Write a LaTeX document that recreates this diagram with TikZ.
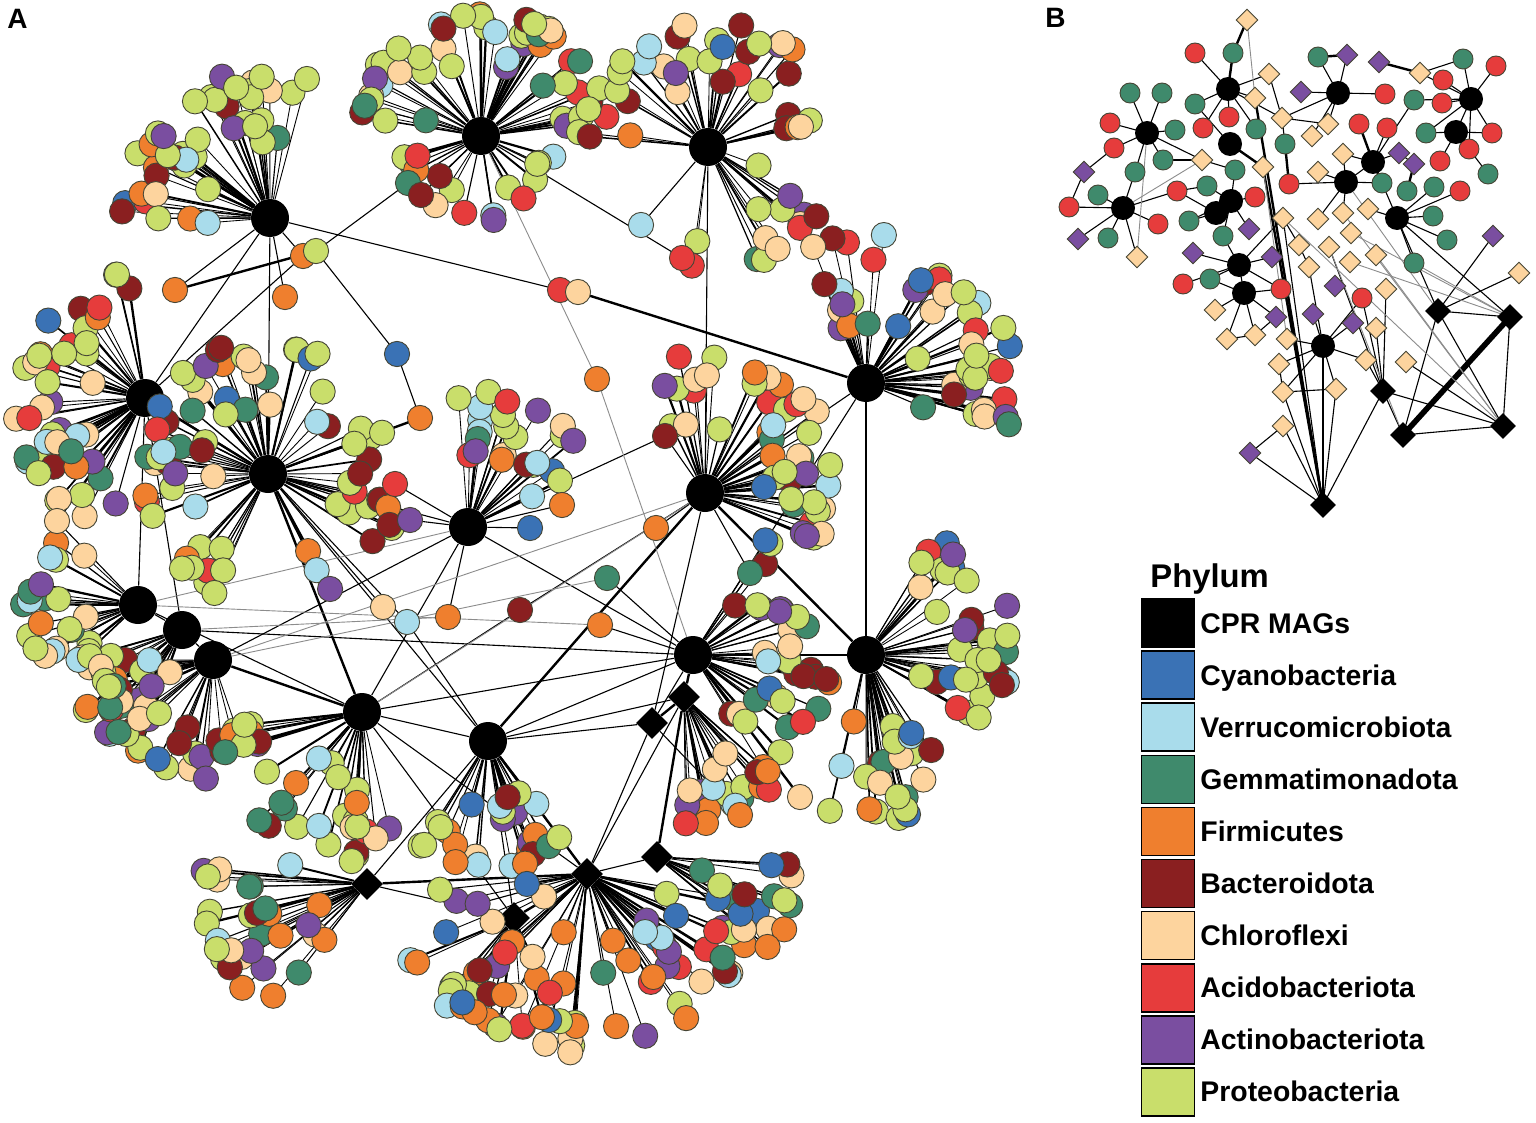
\documentclass[tikz,border=0pt]{standalone}
\usepackage{fontspec}
\setmainfont{Liberation Sans}
\usetikzlibrary{shapes.geometric}
\definecolor{cya}{HTML}{3A72B5}
\definecolor{ver}{HTML}{A9DCEB}
\definecolor{gem}{HTML}{3F8A6C}
\definecolor{ora}{HTML}{EF7F2E}
\definecolor{bac}{HTML}{8A1F20}
\definecolor{chl}{HTML}{FDD49E}
\definecolor{aci}{HTML}{E63C3C}
\definecolor{act}{HTML}{7A4EA0}
\definecolor{pro}{HTML}{C9DE6B}
\definecolor{satb}{HTML}{454535}
\pgfmathdeclarerandomlist{phyla}{{pro}{pro}{pro}{pro}{pro}{pro}{pro}{pro}{pro}{chl}{chl}{chl}{chl}{bac}{bac}{bac}{aci}{aci}{ora}{ora}{gem}{gem}{ver}{ver}{cya}{act}{act}}
\pgfmathdeclarerandomlist{phylb}{{pro}{pro}{pro}{chl}{chl}{chl}{chl}{ora}{ora}{ora}{ora}{act}{act}{act}{aci}{aci}{gem}{gem}{bac}{ver}{cya}}
\def\plist{phyla}
\newif\ifnodepass
% hub, x, y, count, angle min, angle max, r min, r max, seed
\newcommand\fan[9]{%
  \pgfmathsetseed{#9}%
  \foreach \k in {1,...,#4}{%
    \pgfmathsetmacro\ang{#5+rnd*(#6-#5)}%
    \pgfmathsetmacro\rad{#7+sqrt(rnd)*(#8-#7)}%
    \pgfmathsetmacro\px{#2+\rad*cos(\ang)}%
    \pgfmathsetmacro\py{#3-\rad*sin(\ang)}%
    \pgfmathsetmacro\lw{0.42+0.8*rnd^3}%
    \pgfmathrandomitem{\col}{\plist}%
    \ifnodepass
      \node[sat,fill=\col] (f#9n\k) at (f#9s\k) {};%
    \else
      \coordinate (f#9s\k) at (\px,\py);%
      \draw[line width=\lw pt] (#1) -- (f#9s\k);%
    \fi
  }%
}
\newcommand\allfans{%
\def\plist{phyla}%
\fan{h1}{270}{218}{42}{75}{195}{55}{150}{11}%
\fan{h2}{481}{136}{50}{5}{175}{50}{128}{12}%
\fan{h2}{481}{136}{16}{195}{345}{45}{85}{13}%
\fan{h3}{708}{147}{48}{-100}{175}{50}{130}{14}%
\fan{h4}{145}{398}{45}{95}{255}{45}{135}{15}%
\fan{h5}{268}{474}{72}{-70}{250}{45}{135}{16}%
\fan{h6}{468}{527}{24}{25}{95}{60}{140}{17}%
\fan{h7}{705}{493}{45}{-25}{125}{50}{140}{18}%
\fan{h8}{866}{383}{46}{-25}{115}{50}{150}{19}%
\fan{h9}{138}{605}{22}{135}{225}{45}{115}{20}%
\fan{h10}{182}{630}{20}{195}{265}{50}{130}{21}%
\fan{h11}{213}{660}{28}{180}{290}{40}{120}{22}%
\fan{h12}{362}{712}{34}{185}{285}{50}{150}{23}%
\fan{h13}{488}{741}{26}{235}{310}{50}{130}{24}%
\fan{h14}{693}{655}{34}{-60}{60}{40}{140}{25}%
\fan{h15}{866}{655}{34}{-30}{60}{45}{150}{26}%
\fan{h15}{866}{655}{22}{-105}{-55}{60}{170}{27}%
\def\plist{phylb}%
\fan{d1}{684}{697}{20}{-90}{-40}{60}{130}{28}%
\fan{d3}{367}{884}{30}{165}{235}{30}{165}{29}%
\fan{d4}{587}{874}{55}{185}{355}{40}{180}{30}%
\fan{d5}{657}{857}{15}{-40}{0}{40}{150}{31}%
\fan{d6}{514}{918}{20}{200}{300}{30}{115}{32}%
}
\begin{document}
\begin{tikzpicture}[x=0.5pt,y=-0.5pt,
  sat/.style={circle,draw=satb,line width=0.45pt,minimum size=12.6pt,inner sep=0pt},
  hub/.style={circle,fill=black,minimum size=19pt,inner sep=0pt},
  dhub/.style={diamond,fill=black,minimum size=16pt,inner sep=0pt},
  bsat/.style={circle,draw=satb,line width=0.45pt,minimum size=10pt,inner sep=0pt},
  bhub/.style={circle,fill=black,minimum size=12pt,inner sep=0pt},
  bdia/.style={diamond,draw=satb,line width=0.45pt,minimum size=11pt,inner sep=0pt},
  bkd/.style={diamond,fill=black,minimum size=13pt,inner sep=0pt},
  ln/.style={line width=0.55pt},
  thk/.style={line width=1.2pt},
  vthk/.style={line width=2.8pt},
  gry/.style={line width=0.45pt,draw=black!45},
  leg/.style={draw=black,line width=0.8pt,minimum width=26.5pt,minimum height=24pt,inner sep=0pt},
  legtxt/.style={anchor=base west,font=\bfseries\fontsize{14.2}{16}\selectfont,inner sep=0pt},
  lab/.style={anchor=base west,font=\bfseries\fontsize{14}{16}\selectfont,inner sep=0pt}]
\useasboundingbox (0,0) rectangle (1536,1123);
\fill[white] (0,0) rectangle (1536,1123);

\node[lab] (labA) at (7,29) {A};
\node[lab] (labB) at (1045,28) {B};

% ---------------- panel A hubs
\foreach \n/\x/\y in {h1/270/218,h2/481/136,h3/708/147,h4/145/398,h5/268/474,h6/468/527,h7/705/493,h8/866/383,h9/138/605,h10/182/630,h11/213/660,h12/362/712,h13/488/741,h14/693/655,h15/866/655}
  \node[hub] (\n) at (\x,\y) {};
\foreach \n/\x/\y in {d1/684/697,d2/652/723,d3/367/884,d4/587/874,d5/657/857,d6/514/918}
  \node[dhub] (\n) at (\x,\y) {};

% ---------------- bridge positions
\foreach \n/\x/\y in {x1/175/290,x2/285/297,x3/303/256,x4/316/251,x5/408/183,x6/421/195,x7/397/354,x8/420/418,x9/560/290,x10/578/292,x11/597/379,x12/682/258,x13/641/225,x14/665/436,x15/520/610,x16/607/578,x17/656/528,x18/750/573,x19/800/797,x20/57/521,x21/448/617,x22/407/622,x23/383/607,x24/600/625,x25/740/815,x26/395/484,x27/410/520,x28/530/528,x29/562/505}
  \coordinate (\n) at (\x,\y);

% ---------------- edges of panel A
\nodepassfalse
\allfans
\foreach \a/\b in {h1/x1,h1/x2,h1/x3,x3/h4,h1/x9,x4/x5,x5/h2,x6/h2,x4/x7,x7/x8,h2/x12,h3/x13,x14/h7,x14/h6,x15/h7,x15/h12,x16/h14,x17/h7,x18/h14,x18/h7,x20/h9,x21/h6,x22/h5,x23/h5,x22/h13,x24/h14,x25/d2,x26/h6,x27/h6,x28/h6,x29/h6,h1/h4,h1/h5,h4/h9,h4/h10,h5/h6,h5/h13,h6/h12,h6/h14,h3/h7,h7/h8,h8/h14,h9/h10,h10/h11,h9/h12,h10/h14,h12/h14,h12/d4,h12/h13,h13/d3,h13/d6,h13/h14,h13/d1,h14/d2,h14/h15,d2/d4,d1/d4,d4/d5,d3/d6,d6/h12,h11/h6,h7/d2,d2/h13}
  \draw[ln] (\a) -- (\b);
\foreach \a/\b in {x10/h8,h4/h5,x8/h5,h11/h12,h5/h12,h7/h13,h14/d1,d1/d2,d1/d5,d4/d6,d3/d4,h13/d4,h15/h7,x19/h14,x20/h4,h8/h15,x1/x4}
  \draw[thk] (\a) -- (\b);
\foreach \a/\b in {h2/x11,x11/h14,h9/h6,h11/x16,h10/x21,h12/h7,h9/x24,h11/h7}
  \draw[gry] (\a) -- (\b);

% ---------------- nodes of panel A
\nodepasstrue
\allfans
\foreach \n/\c in {x1/ora,x2/ora,x3/ora,x4/pro,x5/gem,x6/bac,x7/cya,x8/ora,x9/aci,x10/chl,x11/ora,x12/aci,x13/ver,x14/bac,x15/bac,x16/gem,x17/ora,x18/gem,x19/chl,x20/chl,x21/ora,x22/ver,x23/chl,x24/ora,x25/ora,x26/aci,x27/act,x28/cya,x29/ora}
  \node[sat,fill=\c] (n\n) at (\n) {};

% ---------------- panel B positions
\foreach \n/\x/\y in {1/1233/53,2/1195/53,3/1195/104,4/1229/117,5/1203/128,6/1256/129,7/1130/93,8/1162/93,9/1110/123,10/1175/130,11/1114/148,12/1163/160,13/1135/172,14/1285/144,15/1098/195,16/1069/207,17/1158/224,18/1108/238,19/1177/191,20/1207/186,21/1235/170,22/1289/184,23/1255/197,24/1189/221,25/1223/236,26/1183/284,27/1210/279,28/1281/289,29/1362/298,30/1433/216,31/1447/240,32/1414/263,33/1382/183,34/1407/191,35/1434/187,36/1460/191,37/1359/124,38/1387/128,39/1426/133,40/1492/133,41/1469/149,42/1440/161,43/1488/174,44/1414/100,45/1443/80,46/1442/103,47/1463/59,48/1496/66,49/1318/57,50/1385/94}
  \coordinate (bs\n) at (\x,\y);
\foreach \n/\x/\y in {1/1228/89,2/1147/133,3/1123/208,4/1230/144,5/1231/201,6/1216/213,7/1239/265,8/1244/293,9/1323/346,10/1338/93,11/1471/99,12/1456/132,13/1373/162,14/1346/182,15/1397/218}
  \coordinate (bh\n) at (\x,\y);
\foreach \n/\x/\y in {1/1247/20,2/1269/74,3/1255/98,4/1282/118,5/1202/160,6/1263/167,7/1137/257,8/1215/310,9/1227/339,10/1255/335,11/1287/339,12/1279/364,13/1283/218,14/1299/245,15/1309/267,16/1283/392,17/1283/426,18/1336/389,19/1318/219,20/1343/213,21/1351/233,22/1329/247,23/1350/262,24/1376/255,25/1386/289,26/1376/328,27/1366/360,28/1406/362,29/1519/273,30/1368/209,31/1318/172,32/1343/154,33/1328/124,34/1312/136,35/1420/73}
  \coordinate (bc\n) at (\x,\y);
\foreach \n/\x/\y in {1/1084/172,2/1078/239,3/1249/229,4/1193/253,5/1272/257,6/1276/317,7/1313/314,8/1250/453,9/1335/286,10/1353/323,11/1399/153,12/1414/164,13/1379/62,14/1347/55,15/1301/92,16/1493/236}
  \coordinate (bp\n) at (\x,\y);
\foreach \n/\x/\y in {1/1323/505,2/1383/391,3/1438/311,4/1510/317,5/1403/435,6/1503/426}
  \coordinate (bk\n) at (\x,\y);

% ---------------- panel B edges
\foreach \a/\b in {bh1/bs1,bh1/bs2,bh1/bc2,bh1/bs3,bh1/bs4,bh1/bs5,bh1/bs6,bh1/bc4,bh1/bc3,
bh2/bs7,bh2/bs8,bh2/bs9,bh2/bs10,bh2/bs11,bh2/bs12,bh2/bs13,bh2/bc5,
bh3/bs13,bh3/bs15,bh3/bs16,bh3/bs17,bh3/bp2,bh3/bs18,bh3/bc7,bh3/bs19,
bp1/bs16,bp1/bs11,bc2/bc4,bc4/bs14,bc4/bc33,
bh5/bs20,bh5/bs21,bh5/bs23,bh5/bs24,bh5/bs25,bh5/bp3,bh6/bs24,
bh7/bp4,bh7/bs27,bh7/bs25,bh7/bp5,bh7/bh8,bh7/bs28,bh7/bc13,bh7/bs26,
bh8/bs28,bh8/bc8,bh8/bc9,bh8/bs27,bh8/bp6,bh8/bc10,
bh9/bc11,bh9/bc12,bh9/bc16,bh9/bc18,bh9/bs29,bh9/bp10,bh9/bc27,bh9/bp7,bh9/bc15,
bk1/bc17,bk1/bp8,bk1/bc16,bk1/bc18,bk1/bk2,bk1/bc13,bk1/bh9,bc16/bc18,bc17/bp8,
bk2/bc26,bk2/bc27,bk2/bs29,bk2/bc25,bk2/bk5,bk2/bk6,bk2/bc22,
bk3/bp16,bk3/bc29,bk3/bk4,bk3/bk6,bk3/bk5,bk3/bh15,bk4/bk6,bk5/bk6,bc28/bk6,
bh10/bs49,bh10/bp14,bh10/bs50,bh10/bp15,bh10/bc33,bh10/bc4,bh10/bc34,bc35/bs47,
bh11/bs47,bh11/bs48,bh11/bs45,bh11/bs46,bh11/bs44,bh11/bh12,bh11/bs40,bh11/bs41,bh11/bs39,bh11/bc35,
bh12/bs42,bh12/bs41,bh12/bs39,bh12/bs40,bh12/bs43,
bh13/bs38,bh13/bc32,bh13/bp11,bh13/bh14,bh13/bh15,bh13/bs44,bp11/bp12,
bh14/bs22,bh14/bc31,bh14/bc32,bh14/bs33,bh14/bc19,bh14/bc20,
bh15/bs30,bh15/bs31,bh15/bs32,bh15/bc30,bh15/bs36,bh15/bs35,bh15/bk4,
bc13/bc14,bc14/bc15,bc5/bs12,bc5/bs21,bc9/bc10,bp6/bc10,bc12/bc16,bh4/bs3,bs19/bs20,bh6/bs19}
  \draw[ln] (\a) -- (\b);
\foreach \a/\b in {bs1/bc1,bh4/bc6,bs14/bs22,bs49/bp14,bp13/bc35,bh13/bs37,bh13/bs33,bp12/bs34,bc6/bk1,bc3/bk1,bh1/bs1,bh5/bh6}
  \draw[thk] (\a) -- (\b);
\draw[vthk] (bk4) -- (bk5);
\foreach \a/\b in {bc1/bc3,bc20/bk6,bc21/bk4,bc24/bk6,bc23/bk4,bc22/bk5,bc13/bk6,bs32/bk4,bh14/bk3,bc5/bh3,bc6/bc11,bh2/bc7}
  \draw[gry] (\a) -- (\b);

% ---------------- panel B nodes
\foreach \n/\c in {1/gem,2/aci,3/gem,4/aci,5/aci,6/gem,7/gem,8/gem,9/aci,10/gem,11/aci,12/gem,13/gem,14/gem,15/gem,16/aci,17/aci,18/gem,19/aci,20/gem,21/gem,22/aci,23/aci,24/gem,25/gem,26/aci,27/gem,28/aci,29/aci,30/gem,31/gem,32/gem,33/gem,34/gem,35/gem,36/aci,37/aci,38/aci,39/gem,40/aci,41/aci,42/aci,43/gem,44/gem,45/aci,46/aci,47/gem,48/aci,49/gem,50/aci}
  \node[bsat,fill=\c] (nbs\n) at (bs\n) {};
\foreach \n in {1,...,15}
  \node[bhub] (nbh\n) at (bh\n) {};
\foreach \n in {1,...,35}
  \node[bdia,fill=chl] (nbc\n) at (bc\n) {};
\foreach \n in {1,...,16}
  \node[bdia,fill=act] (nbp\n) at (bp\n) {};
\foreach \n in {1,...,6}
  \node[bkd] (nbk\n) at (bk\n) {};

% ---------------- legend
\node[anchor=base west,font=\bfseries\fontsize{16.4}{18}\selectfont,inner sep=0pt] (phy) at (1150,587) {Phylum};
\foreach \i/\c/\t in {0/black/CPR MAGs,1/cya/Cyanobacteria,2/ver/Verrucomicrobiota,3/gem/Gemmatimonadota,4/ora/Firmicutes,5/bac/Bacteroidota,6/chl/Chloroflexi,7/aci/Acidobacteriota,8/act/Actinobacteriota,9/pro/Proteobacteria}{
  \node[leg,fill=\c] (sq\i) at (1168,{623+52.1*\i}) {};
  \node[legtxt] (tx\i) at (1200,{633+52.1*\i}) {\t};
}
\end{tikzpicture}
\end{document}
